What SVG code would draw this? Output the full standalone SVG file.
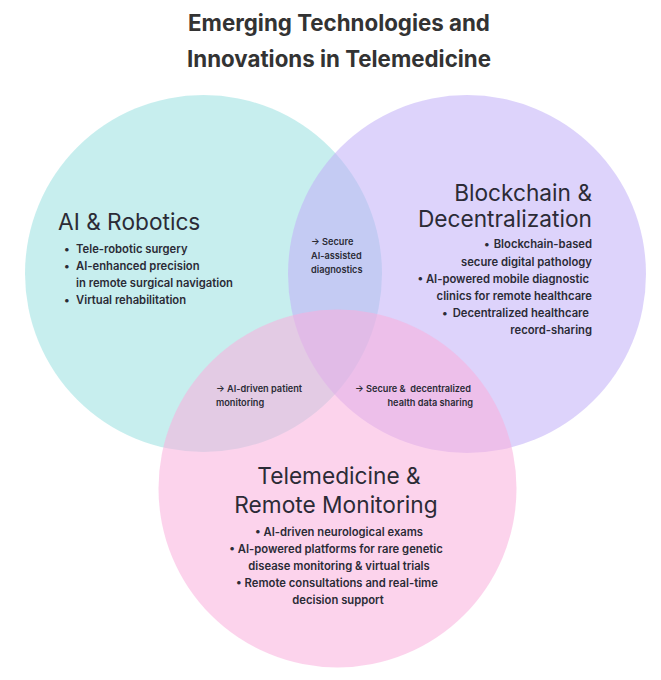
<svg xmlns="http://www.w3.org/2000/svg" width="661" height="680" viewBox="0 0 661 680">
<style>
text{font-family:Inter,"Noto Sans","Liberation Sans",sans-serif;fill:#2b2b36}
.title{font-size:22.3px;font-weight:700;fill:#333333;text-anchor:middle}
.head{font-size:22.7px;font-weight:400}
.item{font-size:11.25px;font-weight:600}
.lab{font-size:9.2px;font-weight:600}
.c{opacity:0.55}
.mid{text-anchor:middle}
.end{text-anchor:end}
</style>
<rect width="661" height="680" fill="#ffffff"/>
<g id="title">
<text class="title" x="339" y="31">Emerging Technologies and</text>
<text class="title" x="339" y="67">Innovations in Telemedicine</text>
</g>
<g id="ai-robotics">
<circle class="c" cx="203.5" cy="273.5" r="178.5" fill="#99e0e0"/>
<text class="head" x="58" y="230">AI &amp; Robotics</text>
<text class="item" x="64" y="253">•</text><text class="item" x="76" y="253">Tele-robotic surgery</text>
<text class="item" x="64" y="270">•</text><text class="item" x="76" y="270">AI-enhanced precision</text>
<text class="item" x="76" y="287">in remote surgical navigation</text>
<text class="item" x="64" y="304">•</text><text class="item" x="76" y="304">Virtual rehabilitation</text>
</g>
<g id="blockchain">
<circle class="c" cx="467" cy="274" r="179" fill="#c1aff8"/>
<text class="head end" x="592" y="201">Blockchain &amp;</text>
<text class="head end" x="592" y="227">Decentralization</text>
<text class="item" x="484" y="248">•</text><text class="item end" x="592" y="248">Blockchain-based</text>
<text class="item end" x="592" y="265.5">secure digital pathology</text>
<text class="item end" x="589" y="283">• AI-powered mobile diagnostic</text>
<text class="item end" x="592" y="300">clinics for remote healthcare</text>
<text class="item" x="442" y="317">•</text><text class="item end" x="589" y="317">Decentralized healthcare</text>
<text class="item end" x="592" y="334">record-sharing</text>
</g>
<g id="telemedicine">
<circle class="c" cx="337.5" cy="488.5" r="179" fill="#faafdc"/>
<text class="head mid" x="339" y="484">Telemedicine &amp;</text>
<text class="head mid" x="336" y="513">Remote Monitoring</text>
<text class="item mid" x="339" y="536">• AI-driven neurological exams</text>
<text class="item mid" x="336" y="553">• AI-powered platforms for rare genetic</text>
<text class="item mid" x="339" y="570">disease monitoring &amp; virtual trials</text>
<text class="item mid" x="337" y="587">• Remote consultations and real-time</text>
<text class="item mid" x="338" y="604">decision support</text>
</g>
<g id="label-ai-blockchain">
<text class="lab" x="311" y="245">→ Secure</text>
<text class="lab" x="311" y="259">AI-assisted</text>
<text class="lab" x="311" y="273">diagnostics</text>
</g>
<g id="label-ai-telemedicine">
<text class="lab" x="216" y="392">→ AI-driven patient</text>
<text class="lab" x="216" y="406">monitoring</text>
</g>
<g id="label-blockchain-telemedicine">
<text class="lab end" x="471" y="392" xml:space="preserve">→ Secure &amp;  decentralized</text>
<text class="lab end" x="473" y="406">health data sharing</text>
</g>
<g id="connectors"/>
</svg>
